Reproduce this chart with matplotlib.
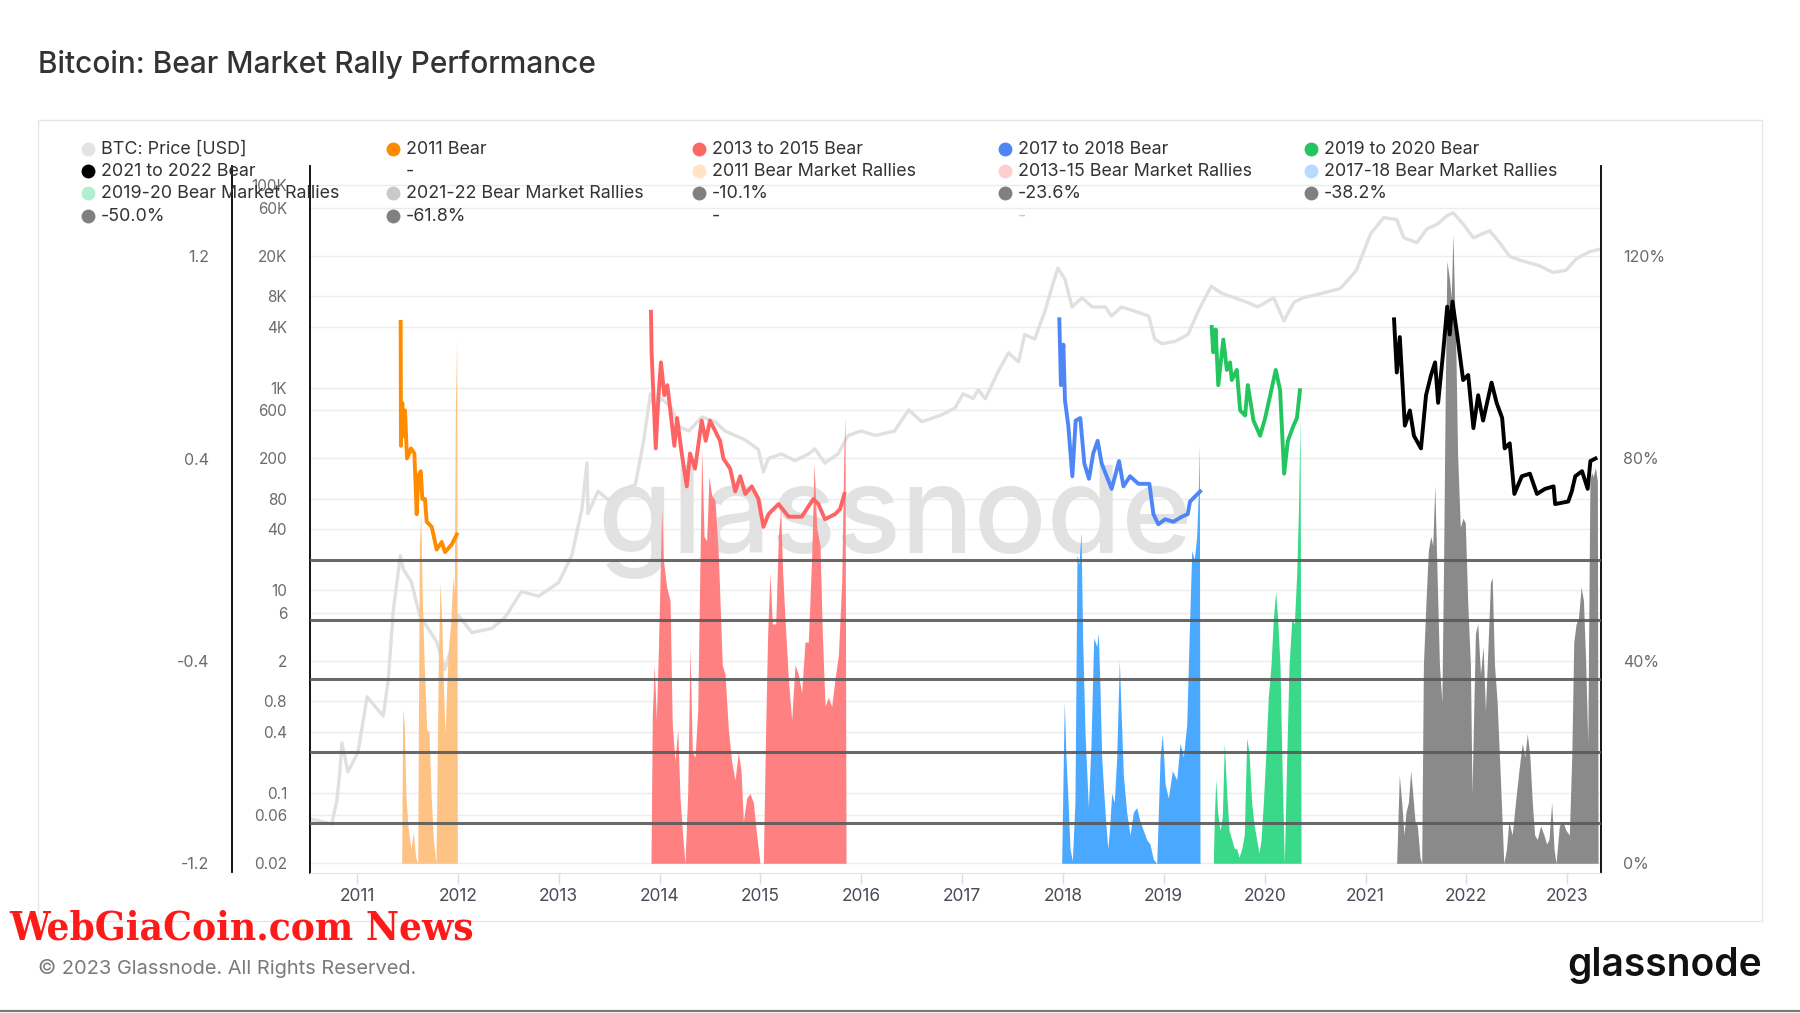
import matplotlib.pyplot as plt
import numpy as np
from matplotlib.ticker import FixedLocator, NullLocator
from matplotlib.patches import Rectangle

plt.rcParams['font.family'] = ['Inter', 'DejaVu Sans']

title = 'Bitcoin: Bear Market Rally Performance'

# axis ticks
years = list(range(2011, 2024))
price_ticks = [0.02, 0.06, 0.1, 0.4, 0.8, 2, 6, 10, 40, 80, 200, 600,
               1000, 4000, 8000, 20000, 60000, 100000]
price_labels = ['0.02', '0.06', '0.1', '0.4', '0.8', '2', '6', '10', '40',
                '80', '200', '600', '1K', '4K', '8K', '20K', '60K', '100K']
ratio_ticks = [-1.2, -0.4, 0.4, 1.2]
pct_ticks = [0, 40, 80, 120]

# BTC price (year, USD)
btc_price = [
    (2010.534, 0.055), (2010.75, 0.049), (2010.80, 0.083), (2010.83, 0.16),
    (2010.85, 0.31), (2010.91, 0.16), (2011.01, 0.25), (2011.10, 0.88),
    (2011.26, 0.57), (2011.31, 1.3), (2011.36, 6.3), (2011.43, 22),
    (2011.46, 16), (2011.54, 12), (2011.62, 5.7), (2011.67, 4.7),
    (2011.79, 3.1), (2011.87, 1.64), (2011.94, 2.75), (2012.00, 5.7),
    (2012.14, 3.8), (2012.34, 4.2), (2012.47, 5.4), (2012.63, 9.7),
    (2012.80, 8.7), (2013.00, 11.9), (2013.13, 22), (2013.23, 63),
    (2013.28, 180), (2013.29, 57), (2013.39, 95), (2013.49, 78),
    (2013.66, 101), (2013.76, 110), (2013.84, 290), (2013.91, 870),
    (2013.95, 630), (2014.02, 780), (2014.12, 630), (2014.19, 415),
    (2014.29, 373), (2014.42, 513), (2014.55, 461), (2014.65, 373),
    (2014.75, 337), (2014.85, 304), (2014.98, 245), (2015.03, 147),
    (2015.08, 200), (2015.21, 222), (2015.34, 190), (2015.48, 222),
    (2015.54, 248), (2015.64, 180), (2015.77, 222), (2015.87, 337),
    (2016.00, 373), (2016.14, 337), (2016.33, 373), (2016.47, 603),
    (2016.60, 461), (2016.80, 540), (2016.93, 630), (2017.01, 870),
    (2017.11, 780), (2017.16, 955), (2017.23, 776), (2017.36, 1460),
    (2017.46, 2210), (2017.56, 1795), (2017.62, 3350), (2017.72, 3020),
    (2017.82, 5660), (2017.90, 10570), (2017.95, 15200), (2018.02, 11750),
    (2018.09, 6270), (2018.19, 7730), (2018.29, 6270), (2018.42, 6270),
    (2018.48, 5100), (2018.58, 6270), (2018.72, 5660), (2018.85, 5100),
    (2018.91, 3020), (2018.98, 2720), (2019.11, 2860), (2019.24, 3350),
    (2019.34, 5660), (2019.47, 10050), (2019.57, 8610), (2019.70, 7730),
    (2019.83, 6950), (2019.93, 6270), (2020.09, 7730), (2020.19, 4570),
    (2020.29, 6950), (2020.38, 7730), (2020.58, 8610), (2020.75, 9530),
    (2020.91, 14450), (2021.05, 33100), (2021.18, 47900), (2021.31, 45700),
    (2021.38, 30200), (2021.51, 27100), (2021.61, 37150), (2021.71, 41100),
    (2021.81, 50100), (2021.87, 53500), (2021.97, 41100), (2022.07, 30200),
    (2022.23, 35500), (2022.33, 27100), (2022.43, 19800), (2022.56, 17800),
    (2022.72, 16070), (2022.86, 13740), (2022.99, 14450), (2023.09, 18800),
    (2023.22, 22000), (2023.31, 23200),
]

# bear market price / ATH ratio (left axis)
bear_2011 = [
    (2011.433, 0.94), (2011.436, 0.45), (2011.449, 0.62), (2011.462, 0.49),
    (2011.476, 0.59), (2011.496, 0.40), (2011.535, 0.44), (2011.569, 0.42),
    (2011.592, 0.18), (2011.608, 0.33), (2011.632, 0.35), (2011.648, 0.24),
    (2011.674, 0.24), (2011.691, 0.15), (2011.741, 0.13), (2011.790, 0.04),
    (2011.840, 0.07), (2011.873, 0.03), (2011.939, 0.06), (2011.989, 0.10),
]
bear_2013 = [
    (2013.915, 0.98), (2013.921, 0.82), (2013.962, 0.44), (2013.988, 0.64),
    (2014.014, 0.78), (2014.047, 0.65), (2014.077, 0.69), (2014.104, 0.60),
    (2014.147, 0.45), (2014.174, 0.56), (2014.220, 0.42), (2014.270, 0.29),
    (2014.302, 0.42), (2014.352, 0.36), (2014.418, 0.55), (2014.458, 0.47),
    (2014.500, 0.55), (2014.550, 0.51), (2014.600, 0.47), (2014.633, 0.40),
    (2014.700, 0.36), (2014.750, 0.27), (2014.800, 0.33), (2014.850, 0.26),
    (2014.914, 0.29), (2014.980, 0.24), (2015.030, 0.13), (2015.080, 0.18),
    (2015.180, 0.22), (2015.280, 0.17), (2015.410, 0.17), (2015.525, 0.24),
    (2015.575, 0.22), (2015.640, 0.16), (2015.740, 0.18), (2015.790, 0.20),
    (2015.833, 0.26),
]
bear_2017 = [
    (2017.964, 0.95), (2017.980, 0.69), (2018.004, 0.85), (2018.020, 0.63),
    (2018.053, 0.53), (2018.093, 0.33), (2018.126, 0.55), (2018.172, 0.56),
    (2018.212, 0.38), (2018.258, 0.32), (2018.300, 0.42), (2018.344, 0.47),
    (2018.384, 0.38), (2018.483, 0.28), (2018.556, 0.39), (2018.600, 0.29),
    (2018.665, 0.33), (2018.748, 0.30), (2018.857, 0.30), (2018.897, 0.18),
    (2018.946, 0.14), (2019.013, 0.16), (2019.095, 0.15), (2019.178, 0.17),
    (2019.237, 0.18), (2019.260, 0.23), (2019.310, 0.25), (2019.360, 0.27),
]
bear_2019 = [
    (2019.475, 0.92), (2019.490, 0.82), (2019.514, 0.91), (2019.540, 0.69),
    (2019.590, 0.87), (2019.625, 0.75), (2019.657, 0.78), (2019.674, 0.71),
    (2019.724, 0.75), (2019.757, 0.59), (2019.806, 0.57), (2019.833, 0.69),
    (2019.889, 0.55), (2019.955, 0.49), (2020.005, 0.56), (2020.055, 0.65),
    (2020.110, 0.75), (2020.153, 0.67), (2020.193, 0.34), (2020.230, 0.47),
    (2020.286, 0.53), (2020.320, 0.56), (2020.350, 0.67),
]
bear_2021 = [
    (2021.283, 0.95), (2021.310, 0.74), (2021.340, 0.88), (2021.390, 0.53),
    (2021.440, 0.59), (2021.480, 0.49), (2021.550, 0.44), (2021.600, 0.65),
    (2021.650, 0.73), (2021.690, 0.78), (2021.720, 0.62), (2021.770, 0.82),
    (2021.810, 1.00), (2021.835, 0.89), (2021.862, 1.02), (2021.909, 0.89),
    (2021.968, 0.71), (2022.018, 0.73), (2022.070, 0.52), (2022.117, 0.65),
    (2022.166, 0.55), (2022.250, 0.70), (2022.300, 0.62), (2022.355, 0.56),
    (2022.380, 0.44), (2022.430, 0.46), (2022.476, 0.26), (2022.550, 0.33),
    (2022.630, 0.34), (2022.700, 0.26), (2022.780, 0.28), (2022.865, 0.29),
    (2022.880, 0.22), (2023.010, 0.23), (2023.045, 0.27), (2023.080, 0.33),
    (2023.147, 0.35), (2023.203, 0.28), (2023.230, 0.39), (2023.280, 0.40),
]

# bear market rallies, % gain from running low (right axis)
rally_2011 = [
    (2011.443, 0), (2011.453, 30.5), (2011.469, 27.3), (2011.486, 12.9),
    (2011.509, 6.6), (2011.535, 2.9), (2011.558, 6.2), (2011.582, 1.2),
    (2011.602, 0), (2011.618, 62.8), (2011.632, 69.0), (2011.647, 52.8),
    (2011.667, 39.2), (2011.691, 26.5), (2011.714, 26.0), (2011.734, 13.8),
    (2011.757, 4.7), (2011.783, 0), (2011.806, 39.2), (2011.823, 55.5),
    (2011.840, 48.3), (2011.856, 35.5), (2011.873, 25.6), (2011.889, 34.6),
    (2011.905, 41.9), (2011.932, 48.3), (2011.949, 56.4), (2011.965, 53.7),
    (2011.975, 90.0), (2011.989, 103.6), (2011.995, 0),
]
rally_2013 = [
    (2013.915, 0), (2013.928, 29.2), (2013.948, 39.2), (2013.968, 28.3),
    (2013.988, 41.9), (2014.004, 55.5), (2014.021, 70.0), (2014.037, 60.0),
    (2014.071, 54.6), (2014.104, 51.9), (2014.126, 27.4), (2014.153, 20.1),
    (2014.180, 26.5), (2014.203, 12.9), (2014.236, 3.8), (2014.252, 0),
    (2014.279, 13.8), (2014.302, 42.8), (2014.325, 21.9), (2014.352, 21.0),
    (2014.378, 30.1), (2014.401, 60.0), (2014.418, 81.8), (2014.441, 64.6),
    (2014.467, 63.7), (2014.490, 76.4), (2014.517, 72.7), (2014.550, 71.8),
    (2014.583, 60.9), (2014.622, 39.2), (2014.649, 37.4), (2014.682, 26.5),
    (2014.715, 20.1), (2014.748, 16.5), (2014.781, 21.9), (2014.808, 18.3),
    (2014.831, 8.3), (2014.864, 12.9), (2014.897, 13.8), (2014.930, 12.0),
    (2014.963, 5.6), (2014.996, 0), (2015.029, 0), (2015.052, 26.5),
    (2015.072, 45.5), (2015.095, 57.3), (2015.118, 47.3), (2015.152, 47.3),
    (2015.178, 64.6), (2015.201, 70.0), (2015.221, 57.3), (2015.244, 48.3),
    (2015.277, 36.5), (2015.310, 28.3), (2015.343, 39.2), (2015.376, 37.4),
    (2015.409, 33.7), (2015.442, 43.7), (2015.475, 43.7), (2015.509, 60.9),
    (2015.532, 79.1), (2015.558, 66.4), (2015.591, 62.8), (2015.614, 45.5),
    (2015.641, 31.0), (2015.674, 32.8), (2015.707, 31.0), (2015.740, 36.5),
    (2015.773, 41.0), (2015.806, 55.5), (2015.829, 82.7), (2015.839, 88.2),
    (2015.849, 0),
]
rally_2017 = [
    (2017.987, 0), (2018.013, 31.9), (2018.030, 21.0), (2018.047, 13.8),
    (2018.070, 2.9), (2018.093, 0.5), (2018.119, 12.0), (2018.139, 60.9),
    (2018.159, 59.1), (2018.179, 65.5), (2018.196, 43.7), (2018.219, 25.6),
    (2018.252, 11.0), (2018.278, 23.7), (2018.305, 44.6), (2018.335, 42.8),
    (2018.351, 45.5), (2018.367, 34.6), (2018.384, 21.0), (2018.417, 10.1),
    (2018.444, 2.9), (2018.460, 6.2), (2018.483, 13.8), (2018.509, 12.0),
    (2018.533, 21.0), (2018.559, 40.1), (2018.576, 30.1), (2018.599, 17.4),
    (2018.632, 10.1), (2018.665, 5.6), (2018.698, 10.1), (2018.731, 11.0),
    (2018.764, 8.3), (2018.797, 6.5), (2018.830, 4.7), (2018.863, 3.8),
    (2018.896, 0.8), (2018.930, 0), (2018.963, 21.0), (2018.986, 25.6),
    (2019.013, 15.6), (2019.045, 12.9), (2019.085, 18.3), (2019.128, 16.5),
    (2019.161, 23.7), (2019.194, 21.0), (2019.227, 27.4), (2019.250, 43.7),
    (2019.277, 61.8), (2019.302, 60.0), (2019.326, 64.6), (2019.342, 73.6),
    (2019.352, 82.7), (2019.359, 0),
]
rally_2019 = [
    (2019.491, 0), (2019.501, 9.2), (2019.515, 16.5), (2019.534, 10.1),
    (2019.557, 6.5), (2019.580, 9.2), (2019.600, 23.7), (2019.624, 13.8),
    (2019.647, 6.5), (2019.673, 4.7), (2019.700, 2.9), (2019.723, 2.9),
    (2019.746, 1.2), (2019.773, 2.9), (2019.798, 5.6), (2019.822, 24.7),
    (2019.845, 21.9), (2019.871, 12.0), (2019.897, 7.4), (2019.921, 4.7),
    (2019.944, 2.0), (2019.964, 4.7), (2019.987, 12.0), (2020.010, 21.0),
    (2020.036, 32.8), (2020.063, 39.2), (2020.086, 48.3), (2020.109, 53.7),
    (2020.129, 48.3), (2020.152, 39.2), (2020.175, 16.5), (2020.195, 0),
    (2020.219, 21.0), (2020.242, 39.2), (2020.269, 48.3), (2020.294, 47.3),
    (2020.318, 57.3), (2020.335, 70.0), (2020.351, 88.0), (2020.361, 0),
]
rally_2021 = [
    (2021.309, 0), (2021.335, 17.4), (2021.359, 12.0), (2021.382, 5.6),
    (2021.401, 10.1), (2021.425, 12.0), (2021.448, 18.3), (2021.468, 13.8),
    (2021.491, 8.3), (2021.514, 7.4), (2021.540, 1.2), (2021.557, 0),
    (2021.574, 39.2), (2021.600, 51.9), (2021.623, 61.8), (2021.647, 64.6),
    (2021.667, 62.8), (2021.687, 74.6), (2021.707, 59.1), (2021.733, 39.2),
    (2021.757, 31.9), (2021.773, 57.3), (2021.790, 91.8), (2021.807, 119.0),
    (2021.833, 115.4), (2021.850, 111.8), (2021.867, 124.4), (2021.880, 113.6),
    (2021.897, 100.0), (2021.913, 80.9), (2021.940, 66.4), (2021.966, 68.2),
    (2021.989, 67.3), (2022.013, 51.9), (2022.040, 39.2), (2022.056, 13.8),
    (2022.073, 30.1), (2022.090, 45.5), (2022.113, 47.3), (2022.140, 37.4),
    (2022.166, 42.8), (2022.189, 30.1), (2022.216, 43.7), (2022.239, 55.5),
    (2022.256, 56.4), (2022.279, 39.2), (2022.305, 31.9), (2022.338, 16.5),
    (2022.371, 0), (2022.398, 2.9), (2022.421, 8.3), (2022.454, 5.6),
    (2022.487, 12.0), (2022.521, 18.3), (2022.554, 23.7), (2022.580, 21.0),
    (2022.604, 25.6), (2022.630, 21.0), (2022.654, 12.0), (2022.677, 5.6),
    (2022.703, 4.7), (2022.736, 7.4), (2022.769, 5.6), (2022.796, 3.8),
    (2022.819, 4.7), (2022.846, 12.0), (2022.869, 2.9), (2022.889, 0),
    (2022.922, 7.4), (2022.955, 8.3), (2022.988, 6.5), (2023.021, 5.6),
    (2023.045, 21.0), (2023.065, 43.7), (2023.088, 47.3), (2023.111, 48.3),
    (2023.138, 54.6), (2023.161, 51.9), (2023.184, 39.2), (2023.204, 23.7),
    (2023.225, 75.5), (2023.241, 77.3), (2023.257, 76.4), (2023.280, 78.2),
    (2023.299, 75.5), (2023.306, 0),
]

# retracement levels (left axis)
fib_labels = ['-10.1%', '-23.6%', '-38.2%', '-50.0%', '-61.8%']
fib_levels = [0.0, -0.24, -0.47, -0.76, -1.04]

bear_series = [bear_2011, bear_2013, bear_2017, bear_2019, bear_2021]
bear_colors = ['#ff8c00', '#ff6464', '#4f86f7', '#22c55e', '#000000']
rally_series = [rally_2011, rally_2013, rally_2017, rally_2019, rally_2021]
rally_colors = ['#ffc285', '#ff8080', '#4aa8ff', '#3ad98a', '#8a8a8a']

legend_entries = [
    ('BTC: Price [USD]', '#e3e3e3'), ('2011 Bear', '#ff8a00'),
    ('2013 to 2015 Bear', '#ff6666'), ('2017 to 2018 Bear', '#4e86f5'),
    ('2019 to 2020 Bear', '#22c55e'),
    ('2021 to 2022 Bear', '#000000'), ('-', None),
    ('2011 Bear Market Rallies', '#ffe3c4'),
    ('2013-15 Bear Market Rallies', '#ffcfcf'),
    ('2017-18 Bear Market Rallies', '#b5dcff'),
    ('2019-20 Bear Market Rallies', '#aef0cf'),
    ('2021-22 Bear Market Rallies', '#c9c9c9'),
    (fib_labels[0], '#808080'), (fib_labels[1], '#808080'),
    (fib_labels[2], '#808080'),
    (fib_labels[3], '#808080'), (fib_labels[4], '#808080'),
    ('-', None), ('-', None),
]

W, H = 1800, 1013
fig = plt.figure(figsize=(W / 100, H / 100), dpi=100)
fig.patch.set_facecolor('white')

# plot box in pixels
x0, x1, y0, y1 = 310, 1601, 166.5, 872.5
ax = fig.add_axes([x0 / W, 1 - y1 / H, (x1 - x0) / W, (y1 - y0) / H])
ax_r = ax.twinx()
ax_l = ax.twinx()

# price axis (log)
px = np.array([p[0] for p in btc_price])
py = np.array([p[1] for p in btc_price])
ax.plot(px, py, color='#e0e0e0', lw=2.4, zorder=2)
ax.set_yscale('log')
ax.set_ylim(10 ** -1.790, 10 ** 5.185)
ax.set_xlim(2010.534, 2023.335)
ax.yaxis.set_major_locator(FixedLocator(price_ticks))
ax.yaxis.set_minor_locator(NullLocator())
ax.set_yticklabels(price_labels)
ax.yaxis.grid(True, color='#ececec', lw=1, zorder=0)
ax.set_axisbelow(True)
ax.tick_params(axis='y', length=0, pad=16.5, labelsize=11, labelcolor='#6b6b6b')
ax.set_xticks(years)
ax.set_xticklabels([str(y) for y in years])
ax.tick_params(axis='x', length=8, width=1, color='#dddddd', pad=3,
               labelsize=12.5, labelcolor='#4a4a58')
for s in ['top', 'right']:
    ax.spines[s].set_visible(False)
ax.spines['left'].set_color('black')
ax.spines['left'].set_linewidth(1.3)
ax.spines['bottom'].set_color('#e3e3e3')
ax.text(0.453, 0.496, 'glassnode', transform=ax.transAxes, ha='center',
        va='center', fontsize=87, fontweight='medium', color='#e2e2e2',
        zorder=1)

# rallies (right % axis)
for series, c in zip(rally_series, rally_colors):
    rx = np.array([p[0] for p in series])
    ry = np.array([p[1] for p in series])
    ax_r.fill_between(rx, 0, ry, color=c, lw=0)
ax_r.set_ylim(-1.82, 137.7)
ax_r.set_yticks(pct_ticks)
ax_r.set_yticklabels([f'{v}%' for v in pct_ticks])
ax_r.tick_params(axis='y', length=0, pad=15.8, labelsize=11.5,
                 labelcolor='#6b6b6b')
for s in ['top', 'left', 'bottom']:
    ax_r.spines[s].set_visible(False)
ax_r.spines['right'].set_color('black')
ax_r.spines['right'].set_linewidth(1.3)

# ratio axis (outer left): retracement lines and bear curves
for lv in fib_levels:
    ax_l.axhline(lv, color='#5a5a5a', lw=2.2, alpha=0.9)
for series, c in zip(bear_series, bear_colors):
    bx = np.array([p[0] for p in series])
    by = np.array([p[1] for p in series])
    ax_l.plot(bx, by, color=c, lw=2.8, solid_joinstyle='round')
ax_l.set_ylim(-1.236, 1.554)
ax_l.yaxis.set_ticks_position('left')
ax_l.yaxis.set_label_position('left')
ax_l.set_yticks(ratio_ticks)
ax_l.set_yticklabels([f'{v:g}' for v in ratio_ticks])
ax_l.tick_params(axis='y', length=0, pad=16.5, labelsize=11.5,
                 labelcolor='#6b6b6b')
for s in ['top', 'right', 'bottom']:
    ax_l.spines[s].set_visible(False)
ax_l.spines['left'].set_visible(True)
ax_l.spines['left'].set_position(('outward', 78 * 0.72))
ax_l.spines['left'].set_color('black')
ax_l.spines['left'].set_linewidth(1.3)

# overlay for legend, titles and frame
ov = fig.add_axes([0, 0, 1, 1], zorder=10)
ov.set_xlim(0, W)
ov.set_ylim(H, 0)
ov.axis('off')
ov.patch.set_visible(False)

ov.add_patch(Rectangle((38, 120), 1724, 801, fill=False, ec='#e6e6e6', lw=1))
ov.axhline(1011, color='#7a7a7a', lw=1.6)

ov.text(38, 64, title, fontsize=21.5, fontweight='medium', color='#333333',
        va='center', ha='left')

col_x = [88, 393, 699, 1005, 1311]
row_y = [149, 171, 193, 216]
for i, (lab, c) in enumerate(legend_entries):
    cx = col_x[i % 5]
    cy = row_y[i // 5]
    tcol = '#333333'
    if i == len(legend_entries) - 1:
        tcol = '#c8c8c8'
    if c is not None:
        ov.scatter([cx], [cy], s=100, color=c, lw=0)
    ov.text(cx + 13, cy, lab, fontsize=12.9, color=tcol, va='center',
            ha='left')

ov.text(9, 928, 'WebGiaCoin.com News', family=['DejaVu Serif'],
        fontstretch='condensed', fontsize=29, fontweight='bold',
        color='#ff1a1a', va='center', ha='left')
ov.text(38, 968, '\u00a9 2023 Glassnode. All Rights Reserved.', fontsize=14.4,
        color='#7a7a7a', va='center', ha='left')
ov.text(1762, 965, 'glassnode', fontsize=28, fontweight='semibold',
        color='#111111', va='center', ha='right')

fig.savefig('out.png', dpi=100)
